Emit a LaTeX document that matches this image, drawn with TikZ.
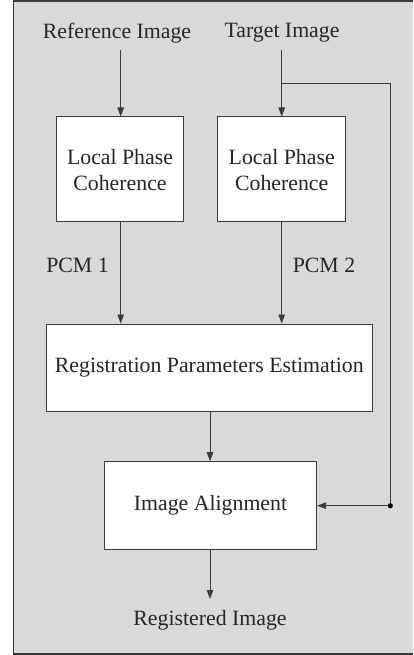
\documentclass[tikz,border=0pt]{standalone}
\usepackage{fontspec}
\setmainfont{Liberation Serif}
\usetikzlibrary{arrows.meta}
\definecolor{bggrey}{HTML}{D9D9D9}
\definecolor{linegrey}{HTML}{3A3A3A}
\begin{document}
\begin{tikzpicture}[x=1pt,y=-1pt,
  every node/.style={font=\fontsize{21.8}{26}\selectfont, text=black!85},
  blockbox/.style={draw=linegrey, line width=0.9pt, fill=white, inner sep=0pt},
  conn/.style={draw=linegrey, line width=0.9pt},
  arr/.style={conn, -{Triangle[length=9pt,width=6.5pt]}}]
\useasboundingbox (0,0) rectangle (413,655);
\fill[bggrey] (13.5,1) rectangle (413,654);
\draw[linegrey, line width=1.2pt] (413,1) -- (13.5,1) -- (13.5,654) -- (413,654);

\node (ref) at (117,33) {Reference Image};
\node (tgt) at (282,33) {Target Image};
\coordinate (refs) at (120.7,50);
\coordinate (tgts) at (281.7,50);

\node[blockbox, minimum width=126.6pt, minimum height=104.7pt] (lpc1) at (120,169.3) {};
\node[align=center] at (120,170) {Local Phase\\Coherence};
\node[blockbox, minimum width=128pt, minimum height=104.7pt] (lpc2) at (281.7,169.3) {};
\node[align=center] at (281.7,170) {Local Phase\\Coherence};

\node (pcm1) at (77.5,265) {PCM 1};
\node (pcm2) at (324,265) {PCM 2};

\node[blockbox, minimum width=326.7pt, minimum height=87.7pt] (rpe) at (209.3,367.8) {Registration Parameters Estimation};
\node[blockbox, minimum width=212.4pt, minimum height=87.3pt] (ia) at (210.5,505.3) {Image Alignment};
\node (reg) at (210,620) {Registered Image};

\coordinate (branch) at (281.7,83.7);
\coordinate (corner) at (390.3,83.7);
\coordinate (dot) at (390.3,505.7);
\coordinate (regtop) at (210,599);

\draw[arr] (refs) -- (refs |- lpc1.north);
\draw[arr] (tgts) -- (tgts |- lpc2.north);
\draw[conn] (branch) -- (corner) -- (dot);
\draw[arr] (dot) -- (ia.east |- dot);
\fill[black] (dot) circle (2.6pt);
\draw[arr] (lpc1.south -| refs) -- (refs |- rpe.north);
\draw[arr] (lpc2.south -| tgts) -- (tgts |- rpe.north);
\draw[arr] (210,411.7) -- (210,461.7 |- ia.north);
\draw[arr] (ia.south -| regtop) -- (regtop);
\end{tikzpicture}
\end{document}
